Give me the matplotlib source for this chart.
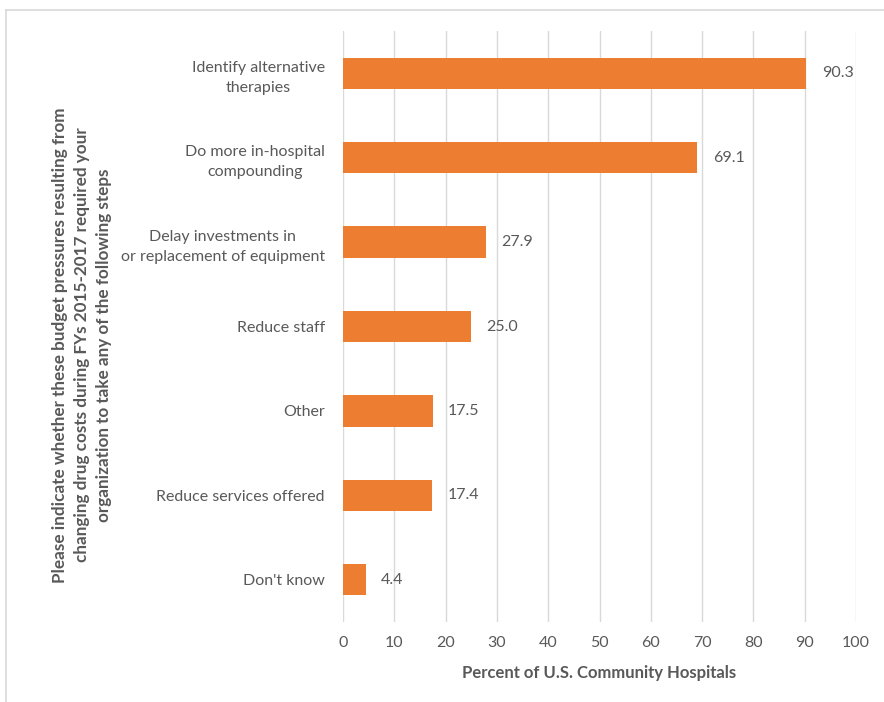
import matplotlib
matplotlib.use("Agg")
import matplotlib.pyplot as plt
from matplotlib.lines import Line2D

categories = [
    "Identify alternative\ntherapies",
    "Do more in-hospital\ncompounding",
    "Delay investments in\nor replacement of equipment",
    "Reduce staff",
    "Other",
    "Reduce services offered",
    "Don't know",
]
values = [90.3, 69.1, 27.9, 25.0, 17.5, 17.4, 4.4]
x_ticks = [0, 10, 20, 30, 40, 50, 60, 70, 80, 90, 100]

plt.rcParams["font.family"] = ["Lato", "DejaVu Sans"]
text_color = "#595959"
bar_color = "#ED7D31"
grid_color = "#D9D9D9"

fig = plt.figure(figsize=(8.84, 7.02), dpi=100)
ax = fig.add_axes([343 / 884, 1 - 622 / 702, (856 - 343) / 884, (622 - 31) / 702])

pos = list(range(len(categories)))
ax.barh(pos, values, height=0.37, color=bar_color, zorder=3)
for p, v in zip(pos, values):
    ax.text(v + 3.0, p, f"{v:.1f}", va="center", ha="left", fontsize=11.5, color=text_color)

ax.set_ylim(len(categories) - 0.5, -0.5)
ax.set_xlim(0, 100)
ax.set_xticks(x_ticks)
ax.set_xticklabels([str(t) for t in x_ticks])
ax.set_yticks(pos)
ax.set_yticklabels(categories, multialignment="center", linespacing=1.55)
ax.tick_params(axis="both", length=0, labelsize=11.5, labelcolor=text_color)
ax.tick_params(axis="y", pad=13)
ax.tick_params(axis="x", pad=10)
ax.grid(axis="x", color=grid_color, linewidth=1, zorder=0)
for s in ax.spines.values():
    s.set_visible(False)

ax.set_xlabel("Percent of U.S. Community Hospitals", fontsize=12, fontweight="bold",
              color=text_color, labelpad=11)

fig.text(82 / 884, 1 - 345 / 702,
         "Please indicate whether these budget pressures resulting from\n"
         "changing drug costs during FYs 2015-2017 required your\n"
         "organization to take any of the following steps",
         rotation=90, ha="center", va="center", multialignment="center",
         fontsize=12.3, fontweight="bold", color=text_color, linespacing=1.45)

# chart frame (left and top edges)
fig.add_artist(Line2D([6 / 884, 6 / 884], [0, 1 - 10 / 702], transform=fig.transFigure,
                      color=grid_color, linewidth=1.2))
fig.add_artist(Line2D([6 / 884, 1], [1 - 10 / 702, 1 - 10 / 702], transform=fig.transFigure,
                      color=grid_color, linewidth=1.2))

fig.savefig("out.png", dpi=100, facecolor="white")
